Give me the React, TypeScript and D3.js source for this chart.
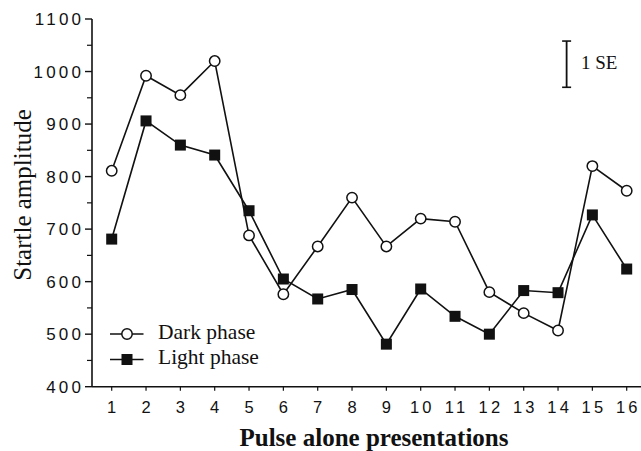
import React from "react";
import * as d3 from "d3";

const presentations = [1, 2, 3, 4, 5, 6, 7, 8, 9, 10, 11, 12, 13, 14, 15, 16];
const darkPhase = [811, 992, 955, 1020, 688, 576, 667, 760, 667, 720, 714, 580, 540, 507, 820, 773];
const lightPhase = [681, 906, 860, 841, 735, 605, 567, 585, 481, 586, 534, 500, 583, 579, 727, 624];
const yTicks = [400, 500, 600, 700, 800, 900, 1000, 1100];
const yMinorTicks = [450, 550, 650, 750, 850, 950, 1050];
const seBar = { x: 14.25, low: 970, high: 1058, label: "1 SE" };
const seriesNames = ["Dark phase", "Light phase"];

const W = 641;
const H = 451;

export default function App() {
  const x = d3.scaleLinear().domain([1, 16]).range([111.7, 626.7]);
  const y = d3.scaleLinear().domain([400, 1100]).range([386.7, 19]);
  const axisX = 92;
  const line = d3
    .line<number>()
    .x((_, i) => x(presentations[i]))
    .y((d) => y(d));
  const sans = "'Liberation Sans', Arial, sans-serif";
  const serif = "'Liberation Serif', 'Times New Roman', serif";
  const ls = 3.2;
  return (
    <svg
      width={W}
      height={H}
      style={{ position: "absolute", left: 0, top: 0, background: "#fff" }}
    >
      {/* axes */}
      <line x1={axisX} x2={axisX} y1={y(1100)} y2={y(400)} stroke="#111" strokeWidth={1.6} />
      <line x1={axisX} x2={W} y1={y(400)} y2={y(400)} stroke="#111" strokeWidth={1.6} />
      {yTicks.map((t) => (
        <g key={t}>
          <line x1={axisX - 7} x2={axisX} y1={y(t)} y2={y(t)} stroke="#111" strokeWidth={1.4} />
          <text
            x={81 + ls}
            y={y(t)}
            dy="0.36em"
            textAnchor="end"
            fontFamily={sans}
            fontSize={17}
            letterSpacing={ls}
            fill="#111"
          >
            {t}
          </text>
        </g>
      ))}
      {yMinorTicks.map((t) => (
        <line key={t} x1={axisX - 5} x2={axisX} y1={y(t)} y2={y(t)} stroke="#111" strokeWidth={1.2} />
      ))}
      {presentations.map((p) => (
        <g key={p}>
          <line x1={x(p)} x2={x(p)} y1={y(400)} y2={y(400) + 4} stroke="#111" strokeWidth={1.2} />
          <text
            x={x(p) + (String(p).length > 1 ? ls / 2 : 0)}
            y={413}
            textAnchor="middle"
            fontFamily={sans}
            fontSize={16.5}
            letterSpacing={String(p).length > 1 ? ls : 0}
            fill="#111"
          >
            {p}
          </text>
        </g>
      ))}
      {/* axis titles */}
      <text
        transform={`translate(31, ${(106.7 + 283.3) / 2}) rotate(-90)`}
        textAnchor="middle"
        fontFamily={serif}
        fontSize={25}
        fill="#111"
      >
        Startle amplitude
      </text>
      <text
        x={374}
        y={446}
        textAnchor="middle"
        fontFamily={serif}
        fontWeight="bold"
        fontSize={25}
        fill="#111"
      >
        Pulse alone presentations
      </text>
      {/* series lines */}
      <path d={line(darkPhase) || ""} fill="none" stroke="#111" strokeWidth={1.6} />
      <path d={line(lightPhase) || ""} fill="none" stroke="#111" strokeWidth={1.6} />
      {lightPhase.map((v, i) => (
        <rect
          key={"l" + i}
          x={x(presentations[i]) - 5.5}
          y={y(v) - 5.5}
          width={11}
          height={11}
          fill="#111"
        />
      ))}
      {darkPhase.map((v, i) => (
        <circle
          key={"d" + i}
          cx={x(presentations[i])}
          cy={y(v)}
          r={5.2}
          fill="#fff"
          stroke="#111"
          strokeWidth={1.5}
        />
      ))}
      {/* SE bar */}
      <g>
        <line x1={x(seBar.x)} x2={x(seBar.x)} y1={y(seBar.high)} y2={y(seBar.low)} stroke="#111" strokeWidth={1.8} />
        <line x1={x(seBar.x) - 4.5} x2={x(seBar.x) + 4.5} y1={y(seBar.high)} y2={y(seBar.high)} stroke="#111" strokeWidth={1.6} />
        <line x1={x(seBar.x) - 4.5} x2={x(seBar.x) + 4.5} y1={y(seBar.low)} y2={y(seBar.low)} stroke="#111" strokeWidth={1.6} />
        <text x={581} y={69} fontFamily={serif} fontSize={19} fill="#111">
          {seBar.label}
        </text>
      </g>
      {/* legend */}
      <g>
        <line x1={110} x2={143.5} y1={334} y2={334} stroke="#111" strokeWidth={1.6} />
        <circle cx={127} cy={334} r={5.2} fill="#fff" stroke="#111" strokeWidth={1.5} />
        <text x={158} y={338.5} fontFamily={serif} fontSize={21.5} fill="#111">
          {seriesNames[0]}
        </text>
        <line x1={110} x2={143.5} y1={359.5} y2={359.5} stroke="#111" strokeWidth={1.6} />
        <rect x={127 - 5.5} y={359.5 - 5.5} width={11} height={11} fill="#111" />
        <text x={158} y={364} fontFamily={serif} fontSize={21.5} fill="#111">
          {seriesNames[1]}
        </text>
      </g>
    </svg>
  );
}
